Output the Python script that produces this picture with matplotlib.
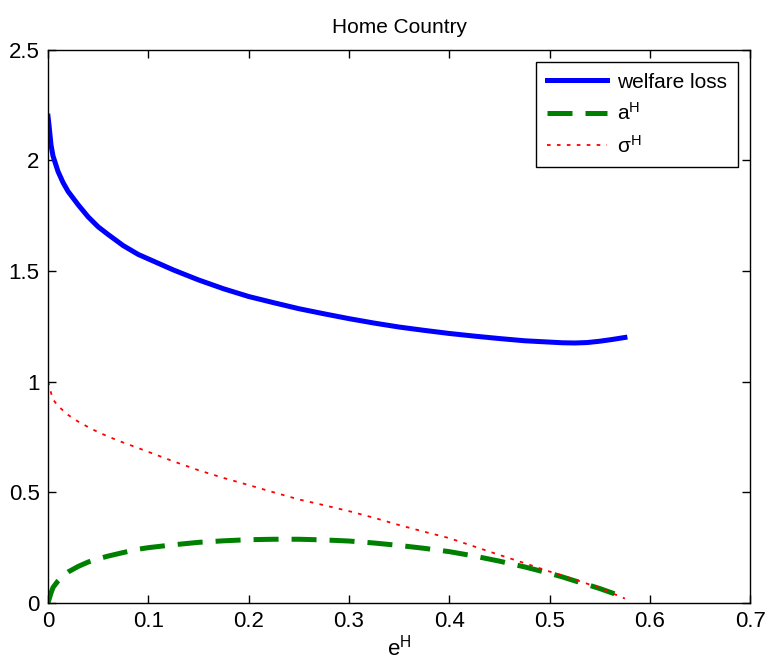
import numpy as np
import matplotlib.pyplot as plt

plt.rcParams['font.family'] = ['Liberation Sans', 'DejaVu Sans']

# e^H grid shared by the three curves
eH = [0.0, 0.001, 0.003, 0.005, 0.01, 0.015, 0.02, 0.03, 0.04, 0.05, 0.06, 0.075,
      0.09, 0.1, 0.125, 0.15, 0.175, 0.2, 0.225, 0.25, 0.275, 0.3, 0.325, 0.35,
      0.375, 0.4, 0.425, 0.45, 0.475, 0.5, 0.5125, 0.525, 0.5375, 0.55, 0.5625, 0.575]
welfare_loss = [2.20, 2.16, 2.07, 2.02, 1.95, 1.90, 1.86, 1.80, 1.745, 1.70, 1.665, 1.615,
                1.575, 1.555, 1.505, 1.46, 1.42, 1.385, 1.357, 1.33, 1.307, 1.285, 1.265, 1.247,
                1.232, 1.218, 1.206, 1.195, 1.185, 1.179, 1.176, 1.175, 1.177, 1.183, 1.191, 1.20]
a_H = [0.0, 0.015, 0.045, 0.07, 0.10, 0.123, 0.14, 0.165, 0.185, 0.20, 0.212, 0.228,
       0.243, 0.25, 0.263, 0.274, 0.281, 0.286, 0.288, 0.288, 0.285, 0.28, 0.271, 0.26,
       0.247, 0.232, 0.212, 0.189, 0.163, 0.134, 0.118, 0.10, 0.083, 0.065, 0.045, 0.025]
sigma_H = [1.0, 0.985, 0.95, 0.92, 0.89, 0.87, 0.85, 0.82, 0.795, 0.772, 0.752, 0.725,
           0.70, 0.683, 0.64, 0.60, 0.565, 0.533, 0.50, 0.468, 0.442, 0.415, 0.385, 0.352,
           0.322, 0.293, 0.255, 0.217, 0.18, 0.142, 0.124, 0.106, 0.087, 0.067, 0.044, 0.02]

fig = plt.figure(figsize=(7.68, 6.64), dpi=100)
ax = fig.add_axes([0.0625, 0.0919, 0.9145, 0.8331])

ax.plot(eH, welfare_loss, color='#0000ff', lw=3.6, label='welfare loss')
ax.plot(eH, a_H, color='#008000', lw=3.6, dashes=(5, 2.6), label='$\\mathregular{a^H}$')
ax.plot(eH, sigma_H, color='#ff0000', lw=1.3, dashes=(2, 3.5), label='$\\mathregular{\\sigma^H}$')

ax.set_xlim(0, 0.7)
ax.set_ylim(0, 2.5)
ax.set_xticks(np.arange(0, 0.71, 0.1))
ax.set_xticklabels(['0', '0.1', '0.2', '0.3', '0.4', '0.5', '0.6', '0.7'])
ax.set_yticks(np.arange(0, 2.51, 0.5))
ax.set_yticklabels(['0', '0.5', '1', '1.5', '2', '2.5'])
ax.tick_params(direction='in', top=True, right=True, labelsize=16, length=6, width=1, pad=6)
for s in ax.spines.values():
    s.set_linewidth(1)

ax.set_title('Home Country', fontsize=15, pad=12)
ax.set_xlabel('$\\mathregular{e^H}$', fontsize=16, labelpad=2)

leg = ax.legend(loc='upper right', fontsize=15, handlelength=2.9, fancybox=False,
                edgecolor='black', framealpha=1, borderaxespad=0.6,
                borderpad=0.5, labelspacing=0.5, handletextpad=0.5)
leg.get_frame().set_linewidth(1)

fig.savefig('out.png', dpi=100)
